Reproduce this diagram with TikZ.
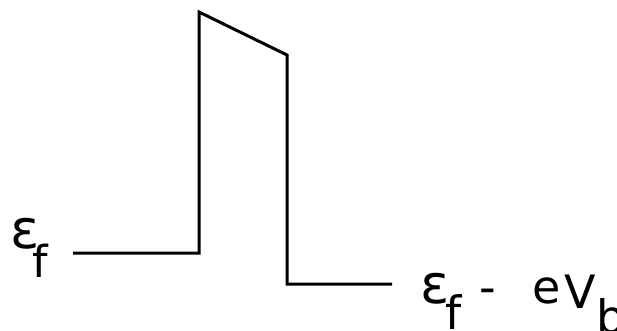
\documentclass[tikz,border=0pt]{standalone}
\usepackage{fontspec}
\setmainfont{DejaVu Sans}
\newcommand{\lowsub}[2]{\raisebox{-#1}{#2}}
\newcommand{\slot}[2]{\makebox[#1][l]{#2}}
\newcommand{\bigeps}{{\fontsize{54}{54}\selectfont ε}}
\tikzset{
level/.style={line width=3pt,line join=miter},
lbl/.style={font=\fontsize{46}{46}\selectfont,inner sep=0pt}
}
\begin{document}
\begin{tikzpicture}[x=1pt,y=-1pt]
\useasboundingbox[fill=white] (0,0) rectangle (617,330);
% band profile
\coordinate (lstart) at (73,253);
\coordinate (lfoot) at (199,253);
\coordinate (ltop) at (199,12);
\coordinate (rtop) at (287,55);
\coordinate (rfoot) at (287,284);
\coordinate (rend) at (392,284);
\draw[level] (lstart) -- (lfoot) -- (ltop) -- (rtop) -- (rfoot) -- (rend);
% labels
\node[lbl,font=\fontsize{44}{44}\selectfont,anchor=base west] (efl) at (10,248)
  {\slot{22pt}{\bigeps}\lowsub{29pt}{f}};
\node[lbl,anchor=base west] (efr) at (420,303)
  {\slot{25pt}{\bigeps}\slot{34pt}{\lowsub{26pt}{f}}\slot{53pt}{-}\slot{32pt}{e}\slot{32pt}{\lowsub{5pt}{V}}\lowsub{30pt}{b}};
\end{tikzpicture}
\end{document}
